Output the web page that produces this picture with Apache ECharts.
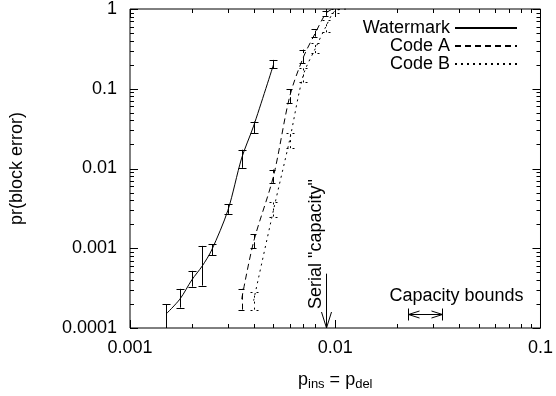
<!DOCTYPE html>
<html>
<head>
<meta charset="utf-8">
<script src="https://cdn.jsdelivr.net/npm/echarts@6/dist/echarts.min.js"></script>
<style>html,body{margin:0;padding:0;background:#fff}#c{width:556px;height:396px}</style>
</head>
<body>
<div id="c"></div>
<script>
// ---- data ----
const waterX  = [0.0015, 0.00175, 0.002, 0.00225, 0.0025, 0.003, 0.0035, 0.004, 0.005];
const waterY  = [0.00015, 0.00023, 0.0004, 0.0006, 0.00095, 0.003, 0.0135, 0.034, 0.2];
const waterLo = [0.0001, 0.00018, 0.00033, 0.00034, 0.00082, 0.0027, 0.0102, 0.0277, 0.18];
const waterHi = [0.0002, 0.00031, 0.00052, 0.00107, 0.00112, 0.00357, 0.0172, 0.0388, 0.23];

const codeAX  = [0.0035, 0.004, 0.005, 0.006, 0.007, 0.008, 0.009, 0.0097];
const codeAY  = [0.00023, 0.0012, 0.008, 0.08, 0.25, 0.5, 0.88, 1];
const codeALo = [0.00017, 0.001, 0.0066, 0.066, 0.21, 0.45, 0.82];
const codeAHi = [0.00031, 0.0015, 0.0097, 0.098, 0.31, 0.56, 0.94];

const codeBX  = [0.004, 0.005, 0.006, 0.007, 0.008, 0.009, 0.01, 0.0115];
const codeBY  = [0.00022, 0.003, 0.023, 0.15, 0.32, 0.6, 0.95, 1];
const codeBLo = [0.00017, 0.0025, 0.018, 0.12, 0.28, 0.51, 0.9];
const codeBHi = [0.00028, 0.0038, 0.028, 0.18, 0.37, 0.72, 1];

const seriesNames = ['Watermark', 'Code A', 'Code B'];
const xMajorTicks = [0.001, 0.01, 0.1];
const yMajorTicks = [0.0001, 0.001, 0.01, 0.1, 1];

// annotations
const serialCapacityX = 0.009;
const serialArrowTop = 0.00048;
const serialLabel = 'Serial "capacity"';
const capacityBoundsX = [0.0227, 0.0333];
const capacityBoundsY = 0.000149;
const capacityLabel = 'Capacity bounds';

const FONT = '"Liberation Sans", Arial, Helvetica, sans-serif';
const dashA = [6, 4];
const dashB = [2, 4];

function pairs(xs, ys) { return xs.map((x, i) => [x, ys[i]]); }
function errData(xs, lo, hi) { return lo.map((l, i) => [xs[i], l, hi[i]]); }

function errRender(dash) {
  return function (params, api) {
    const x = api.value(0), lo = api.value(1), hi = api.value(2);
    const p1 = api.coord([x, lo]);
    const p2 = api.coord([x, hi]);
    const cx = Math.round(p1[0]) + 0.5;
    const st = { stroke: '#000', lineWidth: 1, lineDash: dash, fill: null };
    return {
      type: 'group',
      children: [
        { type: 'line', shape: { x1: cx, y1: p1[1], x2: cx, y2: p2[1] }, style: st },
        { type: 'line', shape: { x1: cx - 4, y1: Math.round(p1[1]) + 0.5, x2: cx + 4, y2: Math.round(p1[1]) + 0.5 }, style: st },
        { type: 'line', shape: { x1: cx - 4, y1: Math.round(p2[1]) + 0.5, x2: cx + 4, y2: Math.round(p2[1]) + 0.5 }, style: st }
      ]
    };
  };
}

function minorsOf(majors) {
  const out = [];
  for (let i = 0; i < majors.length - 1; i++) {
    for (let k = 2; k <= 9; k++) out.push(majors[i] * k);
  }
  return out;
}

function tickRender(params, api) {
  const cs = params.coordSys;
  const L = cs.x, R = cs.x + cs.width, T = cs.y, B = cs.y + cs.height;
  const ch = [];
  const st = { stroke: '#000', lineWidth: 1 };
  const addX = (v, len) => {
    const px = Math.round(api.coord([v, yMajorTicks[0]])[0]) + 0.5;
    ch.push({ type: 'line', shape: { x1: px, y1: B, x2: px, y2: B - len }, style: st });
    ch.push({ type: 'line', shape: { x1: px, y1: T, x2: px, y2: T + len }, style: st });
  };
  const addY = (v, len) => {
    const py = Math.round(api.coord([xMajorTicks[0], v])[1]) + 0.5;
    ch.push({ type: 'line', shape: { x1: L, y1: py, x2: L + len, y2: py }, style: st });
    ch.push({ type: 'line', shape: { x1: R, y1: py, x2: R - len, y2: py }, style: st });
  };
  xMajorTicks.forEach(v => addX(v, 8));
  minorsOf(xMajorTicks).forEach(v => addX(v, 4));
  yMajorTicks.forEach(v => addY(v, 8));
  minorsOf(yMajorTicks).forEach(v => addY(v, 4));
  return { type: 'group', children: ch };
}

function annotRender(params, api) {
  const st = { stroke: '#000', lineWidth: 1, fill: null };
  const tip = api.coord([serialCapacityX, yMajorTicks[0]]);
  const top = api.coord([serialCapacityX, serialArrowTop]);
  const ax = Math.round(tip[0]) + 0.5;
  const ch = [];
  ch.push({ type: 'line', shape: { x1: ax, y1: top[1], x2: ax, y2: tip[1] }, style: st });
  ch.push({ type: 'polyline', shape: { points: [[ax - 5, tip[1] - 16], [ax, tip[1]], [ax + 5, tip[1] - 16]] }, style: st });
  ch.push({
    type: 'text', x: ax - 10, y: tip[1] - 19, rotation: Math.PI / 2,
    style: { text: serialLabel, font: '18px ' + FONT, fill: '#000', align: 'left', verticalAlign: 'middle' }
  });
  const a = api.coord([capacityBoundsX[0], capacityBoundsY]);
  const b = api.coord([capacityBoundsX[1], capacityBoundsY]);
  const y = Math.round(a[1]) + 0.5;
  const x1 = Math.round(a[0]) + 0.5, x2 = Math.round(b[0]) + 0.5;
  ch.push({ type: 'line', shape: { x1: x1, y1: y, x2: x2, y2: y }, style: st });
  ch.push({ type: 'line', shape: { x1: x1, y1: y - 6, x2: x1, y2: y + 6 }, style: st });
  ch.push({ type: 'line', shape: { x1: x2, y1: y - 6, x2: x2, y2: y + 6 }, style: st });
  ch.push({ type: 'polyline', shape: { points: [[x1 + 11, y - 3.5], [x1, y], [x1 + 11, y + 3.5]] }, style: st });
  ch.push({ type: 'polyline', shape: { points: [[x2 - 11, y - 3.5], [x2, y], [x2 - 11, y + 3.5]] }, style: st });
  ch.push({
    type: 'text', x: (x1 + x2) / 2 + 31, y: y - 18,
    style: { text: capacityLabel, font: '18px ' + FONT, fill: '#000', align: 'center', verticalAlign: 'middle' }
  });
  return { type: 'group', children: ch };
}

const chart = echarts.init(document.getElementById('c'), null, { renderer: 'canvas' });
chart.setOption({
  animation: false,
  backgroundColor: '#fff',
  textStyle: { fontFamily: FONT },
  grid: { left: 125, right: 15, top: 9, bottom: 64, show: true, borderColor: '#000', borderWidth: 1, backgroundColor: 'transparent' },
  legend: {
    data: seriesNames,
    orient: 'vertical',
    align: 'right',
    right: 38,
    top: 19,
    padding: 0,
    itemGap: 0,
    itemWidth: 62,
    itemHeight: 10,
    itemStyle: { color: 'transparent', borderColor: 'transparent', borderWidth: 0, opacity: 0 },
    textStyle: { fontSize: 18, color: '#000', fontFamily: FONT, lineHeight: 16 }
  },
  xAxis: {
    type: 'log', logBase: 10, min: 0.001, max: 0.1,
    axisLine: { show: false }, axisTick: { show: false }, splitLine: { show: false },
    axisLabel: { color: '#000', fontSize: 18, margin: 11, fontFamily: FONT, showMaxLabel: true, showMinLabel: true },
    name: '{a|p}{s|ins}{a| = p}{s|del}',
    nameLocation: 'middle', nameGap: 42,
    nameTextStyle: {
      color: '#000',
      rich: {
        a: { fontSize: 18, fontFamily: FONT, color: '#000' },
        s: { fontSize: 13, fontFamily: FONT, color: '#000', padding: [8, 0, 0, 0] }
      }
    }
  },
  yAxis: {
    type: 'log', logBase: 10, min: 0.0001, max: 1,
    axisLine: { show: false }, axisTick: { show: false }, splitLine: { show: false },
    axisLabel: { color: '#000', fontSize: 18, margin: 13, fontFamily: FONT, showMaxLabel: true, showMinLabel: true },
    name: 'pr(block error)', nameLocation: 'middle', nameGap: 104, nameRotate: 90,
    nameTextStyle: { color: '#000', fontSize: 18, fontFamily: FONT }
  },
  series: [
    { name: 'Watermark', type: 'line', data: pairs(waterX, waterY), smooth: 0.3, symbol: 'none', showSymbol: false,
      color: '#000', lineStyle: { color: '#000', width: 1, type: 'solid' }, z: 3 },
    { name: 'Code A', type: 'line', data: pairs(codeAX, codeAY), smooth: 0.3, symbol: 'none', showSymbol: false,
      color: '#000', lineStyle: { color: '#000', width: 1, type: dashA }, z: 3 },
    { name: 'Code B', type: 'line', data: pairs(codeBX, codeBY), smooth: 0.3, symbol: 'none', showSymbol: false,
      color: '#000', lineStyle: { color: '#000', width: 1, type: dashB }, z: 3 },
    { name: 'errW', type: 'custom', data: errData(waterX, waterLo, waterHi), encode: { x: 0, y: [1, 2] },
      renderItem: errRender(null), clip: true, silent: true, z: 4 },
    { name: 'errA', type: 'custom', data: errData(codeAX, codeALo, codeAHi), encode: { x: 0, y: [1, 2] },
      renderItem: errRender(dashA), clip: true, silent: true, z: 4 },
    { name: 'errB', type: 'custom', data: errData(codeBX, codeBLo, codeBHi), encode: { x: 0, y: [1, 2] },
      renderItem: errRender(dashB), clip: true, silent: true, z: 4 },
    { name: 'ticks', type: 'custom', data: [[0.01, 0.01]], renderItem: tickRender, silent: true, z: 5 },
    { name: 'annot', type: 'custom', data: [[0.01, 0.01]], renderItem: annotRender, silent: true, z: 5 }
  ]
});
</script>
</body>
</html>
